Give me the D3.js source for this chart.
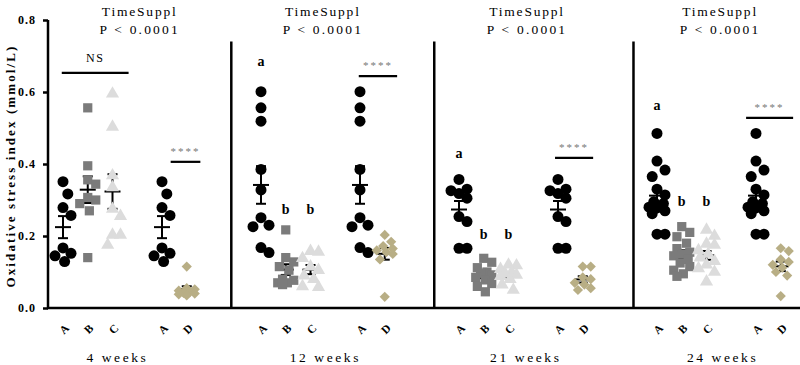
<!DOCTYPE html>
<html>
<head>
<meta charset="utf-8">
<script src="https://cdn.jsdelivr.net/npm/d3@7"></script>
<style>
  body { margin: 0; background: #fff; }
  svg { display: block; }
  text { font-family: "Liberation Serif", "Times New Roman", serif; fill: #000; }
</style>
</head>
<body>
<div id="chart"></div>
<script>
// panels and groups
const panels = ['4 weeks', '12 weeks', '21 weeks', '24 weeks']
const groupNames = ['A', 'B', 'C', 'A', 'D']
const groupSlots = [0, 1, 2, 4, 5]
const yTicks = [0, 0.2, 0.4, 0.6, 0.8]

// values per panel (mmol/L)
const valuesA = [
    [0.351, 0.317, 0.279, 0.257, 0.167, 0.152, 0.145, 0.129],
    [0.601, 0.556, 0.519, 0.385, 0.328, 0.251, 0.23, 0.226, 0.168, 0.154],
    [0.357, 0.33, 0.326, 0.318, 0.305, 0.254, 0.24, 0.166, 0.166],
    [0.485, 0.408, 0.383, 0.365, 0.33, 0.314, 0.295, 0.29, 0.28, 0.278, 0.27, 0.262, 0.205, 0.205]
]
const valuesB = [
    [0.556, 0.395, 0.356, 0.344, 0.307, 0.3, 0.29, 0.27, 0.14],
    [0.217, 0.14, 0.128, 0.115, 0.105, 0.08, 0.077, 0.07, 0.07, 0.065],
    [0.138, 0.127, 0.112, 0.1, 0.097, 0.092, 0.085, 0.078, 0.068, 0.06, 0.045],
    [0.226, 0.21, 0.198, 0.18, 0.165, 0.155, 0.15, 0.145, 0.135, 0.125, 0.115, 0.105, 0.095, 0.088]
]
const valuesC = [
    [0.595, 0.503, 0.368, 0.335, 0.275, 0.255, 0.203, 0.203, 0.175],
    [0.158, 0.156, 0.138, 0.115, 0.105, 0.09, 0.08, 0.06, 0.058],
    [0.12, 0.118, 0.108, 0.1, 0.095, 0.092, 0.088, 0.08, 0.065, 0.05],
    [0.217, 0.2, 0.178, 0.175, 0.16, 0.15, 0.14, 0.13, 0.12, 0.11, 0.1, 0.073]
]
const valuesD = [
    [0.115, 0.055, 0.052, 0.048, 0.045, 0.042, 0.04, 0.038, 0.035],
    [0.203, 0.184, 0.172, 0.165, 0.16, 0.155, 0.15, 0.135, 0.031],
    [0.115, 0.115, 0.085, 0.08, 0.07, 0.065, 0.055, 0.05],
    [0.166, 0.158, 0.135, 0.128, 0.12, 0.112, 0.1, 0.09, 0.033]
]

// annotations (in data units)
const lettersA = ['', 'a', 'a', 'a']
const lettersBC = ['', 'b', 'b', 'b']
const letterAValue = [0, 0.683, 0.428, 0.561]
const letterBCValue = [0, 0.272, 0.203, 0.294]
const starText = ['****', '****', '****', '****']
const starLineValue = [0.406, 0.644, 0.417, 0.528]
const starLineFrom = [0.35, -0.05, -0.12, -0.4]
const starLineTo = [1.55, 1.5, 1.42, 1.5]
const nsValue = 0.653
const headerOffset = [3.1, 2.5, 2.75, 2.55]
const weekOffset = [2.2, 2.6, 2.7, 2.65]
const dividerAt = [6.8, 15.0, 23.05]

const width = 800, height = 365
const svg = d3.select('#chart').append('svg')
    .attr('width', width)
    .attr('height', height)

const y = d3.scaleLinear().domain([0, 0.8]).range([308, 20])
const x = d3.scaleLinear().domain([0, 24]).range([63, 657])
const slotsPerPanel = 8

// series definitions
const series = [
    { vals: valuesA, type: d3.symbolCircle, size: 95, color: '#000', rot: 0, minDist: 13 },
    { vals: valuesB, type: d3.symbolSquare, size: 85, color: '#7b7b7b', rot: 0, minDist: 11 },
    { vals: valuesC, type: d3.symbolTriangle, size: 75, color: '#dcdcdc', rot: 0, minDist: 11 },
    { vals: valuesA, type: d3.symbolCircle, size: 95, color: '#000', rot: 0, minDist: 13 },
    { vals: valuesD, type: d3.symbolSquare, size: 52, color: '#b8ae85', rot: 45, minDist: 9 }
]

// compact beeswarm: spread overlapping points sideways, at most ~8px
function swarm(vals, minDist) {
    const placed = []
    const order = vals.map((v, i) => i).sort((a, b) => vals[b] - vals[a])
    const offsets = [0]
    for (let k = 1; k <= 5; k++) offsets.push(k * 1.6, -k * 1.6)
    order.forEach(i => {
        const py = y(vals[i])
        let best = 0, bestGap = -1
        for (const o of offsets) {
            const gap = placed.length ? d3.min(placed, p => Math.hypot(o - p.dx, py - p.py)) : Infinity
            if (gap >= minDist) { best = o; bestGap = gap; break }
            if (gap > bestGap) { best = o; bestGap = gap }
        }
        placed.push({ v: vals[i], dx: best, py: py })
    })
    return placed
}

// axes
const axisG = svg.append('g').attr('transform', 'translate(48,0)')
axisG.call(d3.axisLeft(y).tickValues(yTicks).tickFormat(d3.format('.1f')).tickSize(5).tickSizeOuter(0))
axisG.select('.domain').attr('stroke-width', 2.5).attr('d', `M0,${y(0.8)}V${y(0)}`)
axisG.selectAll('.tick line').attr('stroke-width', 2.5)
axisG.selectAll('.tick text')
    .attr('x', -12)
    .style('font-family', '"Liberation Serif", serif')
    .style('font-size', '12px')
    .style('font-weight', 'bold')
    .style('letter-spacing', '1px')

svg.append('text')
    .attr('transform', `translate(15,${(y(0) + y(0.8)) / 2 + 2}) rotate(-90)`)
    .attr('text-anchor', 'middle')
    .style('font-size', '13px')
    .style('font-weight', 'bold')
    .style('letter-spacing', '2.1px')
    .text('Oxidative stress index (mmol/L)')

// baseline and panel dividers
svg.append('line')
    .attr('x1', 47).attr('x2', width)
    .attr('y1', y(0)).attr('y2', y(0))
    .attr('stroke', '#000').attr('stroke-width', 2.5)

svg.selectAll('.divider').data(dividerAt).join('line')
    .attr('class', 'divider')
    .attr('x1', d => x(d)).attr('x2', d => x(d))
    .attr('y1', y(0.74)).attr('y2', y(0))
    .attr('stroke', '#000').attr('stroke-width', 2.5)

panels.forEach((label, p) => {
    const base = p * slotsPerPanel

    // header
    svg.append('text')
        .attr('x', x(base + headerOffset[p])).attr('y', 16)
        .attr('text-anchor', 'middle')
        .style('font-size', '13.5px').style('letter-spacing', '1.8px')
        .text('TimeSuppl')
    svg.append('text')
        .attr('x', x(base + headerOffset[p])).attr('y', 34)
        .attr('text-anchor', 'middle')
        .style('font-size', '13.5px').style('letter-spacing', '2.2px')
        .text('P < 0.0001')

    // week label
    svg.append('text')
        .attr('x', x(base + weekOffset[p])).attr('y', 362)
        .attr('text-anchor', 'middle')
        .style('font-size', '13.5px').style('letter-spacing', '2.6px')
        .text(label)

    series.forEach((s, g) => {
        const cx = x(base + groupSlots[g])
        const vals = s.vals[p]
        const mean = d3.mean(vals)
        const sem = d3.deviation(vals) / Math.sqrt(vals.length)

        // error bar (mean +/- SEM), drawn under the markers
        const eb = svg.append('g')
        eb.append('line')
            .attr('x1', cx).attr('x2', cx)
            .attr('y1', y(mean + sem)).attr('y2', y(mean - sem))
            .attr('stroke', '#000').attr('stroke-width', 2)
        ;[mean + sem, mean - sem].forEach(v => {
            eb.append('line')
                .attr('x1', cx - 5).attr('x2', cx + 5)
                .attr('y1', y(v)).attr('y2', y(v))
                .attr('stroke', '#000').attr('stroke-width', 2)
        })
        eb.append('line')
            .attr('x1', cx - 8).attr('x2', cx + 8)
            .attr('y1', y(mean)).attr('y2', y(mean))
            .attr('stroke', '#000').attr('stroke-width', 2)

        // points
        const pts = swarm(vals, s.minDist)
        svg.append('g').selectAll('path').data(pts).join('path')
            .attr('d', d3.symbol().type(s.type).size(s.size))
            .attr('transform', d => `translate(${cx + d.dx},${d.py}) rotate(${s.rot})`)
            .attr('fill', s.color)

        // x label
        svg.append('text')
            .attr('transform', `translate(${cx + 1},${329}) rotate(-45)`)
            .attr('text-anchor', 'middle')
            .attr('dominant-baseline', 'central')
            .style('font-size', '11.5px').style('font-weight', 'bold')
            .text(groupNames[g])
    })

    // significance letters
    if (lettersA[p]) {
        svg.append('text')
            .attr('x', x(base)).attr('y', y(letterAValue[p]) + 4)
            .attr('text-anchor', 'middle')
            .style('font-size', '14px').style('font-weight', 'bold')
            .text(lettersA[p])
        ;[1, 2].forEach(k => {
            svg.append('text')
                .attr('x', x(base + k)).attr('y', y(letterBCValue[p]) + 4)
                .attr('text-anchor', 'middle')
                .style('font-size', '14px').style('font-weight', 'bold')
                .text(lettersBC[p])
        })
    }

    // A vs D bar
    const x0 = x(base + 4 + starLineFrom[p]), x1 = x(base + 4 + starLineTo[p])
    svg.append('line')
        .attr('x1', x0).attr('x2', x1)
        .attr('y1', y(starLineValue[p])).attr('y2', y(starLineValue[p]))
        .attr('stroke', '#000').attr('stroke-width', 2.2)
    svg.append('text')
        .attr('x', (x0 + x1) / 2).attr('y', y(starLineValue[p]) - 7)
        .attr('text-anchor', 'middle')
        .style('font-size', '11px').style('letter-spacing', '2px')
        .style('fill', '#777')
        .text(starText[p])

    // NS bar over A, B, C in the first panel
    if (p === 0) {
        const n0 = x(base - 0.05), n1 = x(base + 2.65)
        svg.append('line')
            .attr('x1', n0).attr('x2', n1)
            .attr('y1', y(nsValue)).attr('y2', y(nsValue))
            .attr('stroke', '#000').attr('stroke-width', 2.2)
        svg.append('text')
            .attr('x', x(base + 1.3)).attr('y', y(nsValue) - 11)
            .attr('text-anchor', 'middle')
            .style('font-size', '12px').style('letter-spacing', '1.5px')
            .text('NS')
    }
})
</script>
</body>
</html>
